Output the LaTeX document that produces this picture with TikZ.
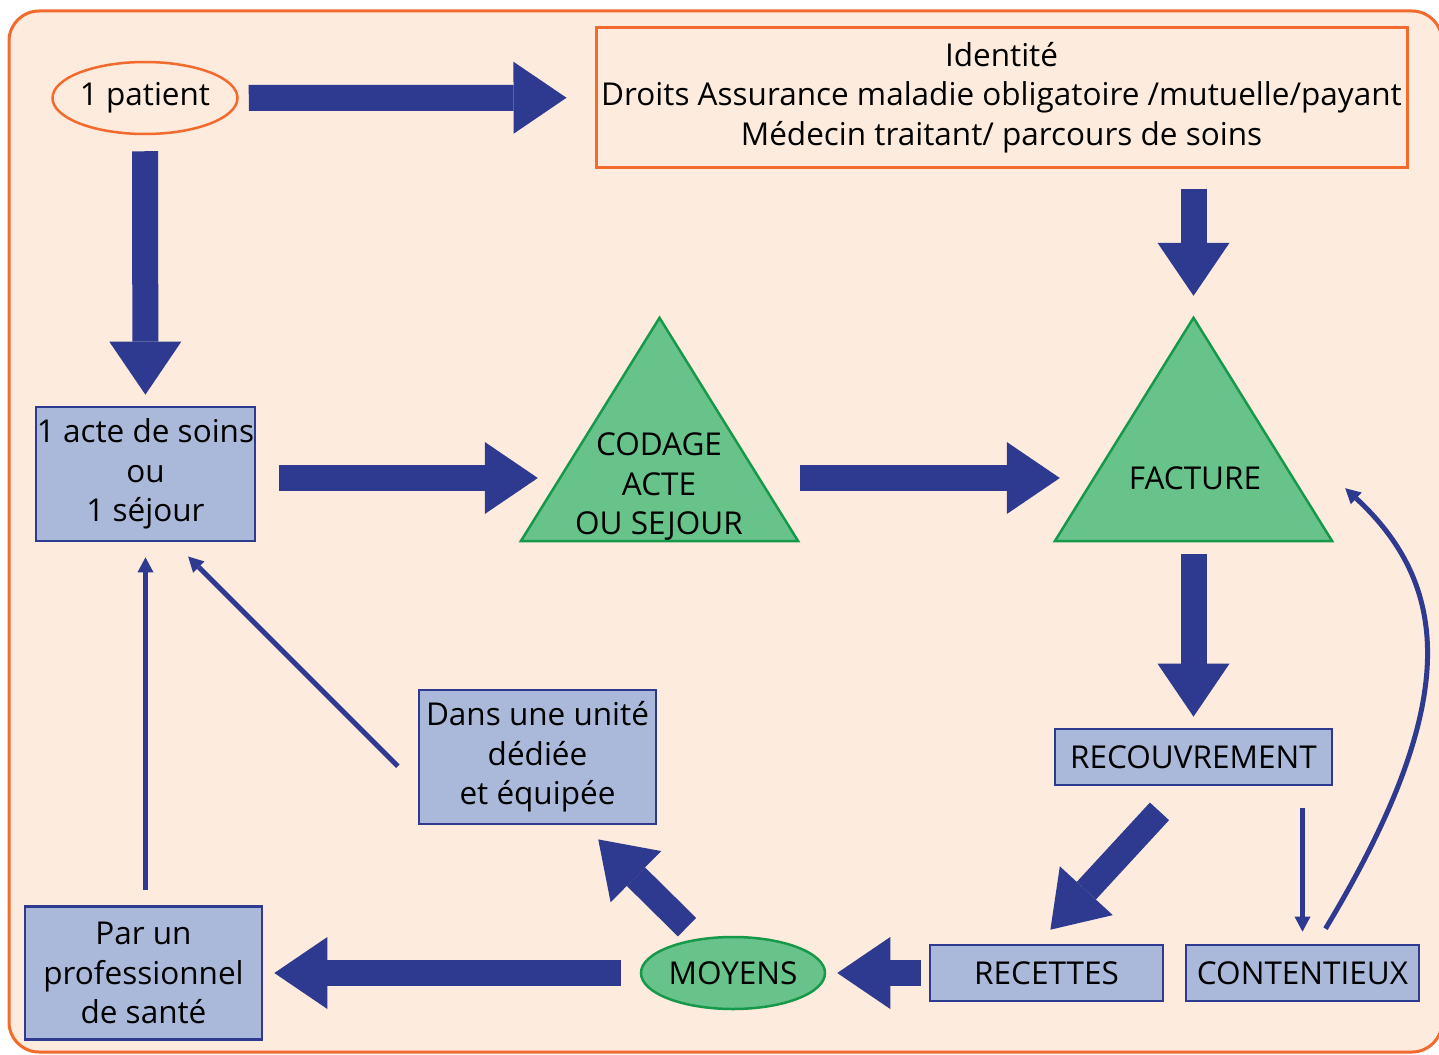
\documentclass[tikz,border=0pt]{standalone}
\usepackage{fontspec}
\setmainfont{Open Sans}
\usetikzlibrary{arrows.meta}
\usetikzlibrary{shapes.geometric}
\usetikzlibrary{positioning}

\definecolor{peach}{HTML}{FDEBDD}
\definecolor{frameorange}{HTML}{F26A2D}
\definecolor{darkblue}{HTML}{2E3A8F}
\definecolor{lightblue}{HTML}{AAB8DA}
\definecolor{greenfill}{HTML}{68C38B}
\definecolor{greenline}{HTML}{17994A}

\begin{document}
\begin{tikzpicture}[x=1pt,y=-1pt,
    font=\fontsize{31.5}{39.5}\selectfont,
    box/.style={draw=darkblue,fill=lightblue,line width=2.7pt,inner sep=0pt,align=center},
    oval/.style={ellipse,line width=2.5pt,inner sep=0pt,minimum width=185pt,minimum height=72pt},
    trizone/.style={inner sep=0pt,minimum width=277pt,minimum height=223pt},
    tri/.style={draw=greenline,fill=greenfill,line width=2.5pt},
    tritext/.style={inner sep=0pt,align=center},
    bigarrow/.style={color=darkblue,line width=26pt,-{Triangle[length=53pt,width=72pt,line width=0pt]}},
    thinarrow/.style={color=darkblue,line width=5pt,-{Triangle[length=15pt,width=16pt,line width=0pt]}}]
    \useasboundingbox (0,0) rectangle (1439,1054);
    \draw [draw=frameorange,fill=peach,line width=3pt,rounded corners=30pt] (9,11) rectangle (1442,1052);

    % top row
    \node [oval,draw=frameorange] (patient) at (145,98) {1 patient};
    \node [draw=frameorange,line width=3pt,inner sep=0pt,align=center,
           minimum width=811pt,minimum height=139pt] (info) at (1001.5,97.5)
          {Identité\\Droits Assurance maladie obligatoire /mutuelle/payant\\Médecin traitant/ parcours de soins};

    % middle row
    \node [box,minimum width=219pt,minimum height=134pt] (acte) at (145.5,474) {1 acte de soins\\ou\\1 séjour};
    \node [trizone] (codtri) at (659.5,429.5) {};
    \node [trizone] (factri) at (1193.5,429.5) {};
    \draw [tri] (codtri.north) -- (codtri.south east) -- (codtri.south west) -- cycle;
    \draw [tri] (factri.north) -- (factri.south east) -- (factri.south west) -- cycle;
    \node [tritext] (codage) at (659,487) {CODAGE\\ACTE\\OU SEJOUR};
    \node [tritext] (facture) at (1195,478) {FACTURE};

    % bottom part
    \node [box,minimum width=277pt,minimum height=56pt] (recouv) at (1193.5,757) {RECOUVREMENT};
    \node [box,minimum width=233pt,minimum height=56pt] (recettes) at (1046.5,973) {RECETTES};
    \node [box,minimum width=233pt,minimum height=56pt] (conten) at (1302.5,973) {CONTENTIEUX};
    \node [oval,draw=greenline,fill=greenfill,minimum width=184pt] (moyens) at (733,973) {MOYENS};
    \node [box,minimum width=237pt,minimum height=134pt] (dans) at (537.5,757) {Dans une unité\\dédiée\\et équipée};
    \node [box,minimum width=237pt,minimum height=133pt] (parun) at (143.5,973) {Par un\\professionnel\\de santé};

    \path [bigarrow]
        (patient) edge [shorten <=10pt,shorten >=28pt] (info)
        (patient) edge [shorten <=16pt,shorten >=11pt] (acte)
        (factri.north |- info.south) edge [shorten <=20pt,shorten >=22pt] (factri.north)
        (acte.east |- facture) edge [shorten <=23pt,shorten >=-17pt] (codtri.south west |- facture)
        (codtri.south east |- facture) edge [shorten <=2pt,shorten >=-5pt] (factri.south west |- facture)
        (factri.south) edge [shorten <=13pt,shorten >=11pt] (recouv)
        ([xshift=-11pt]recouv.south) edge [shorten <=34pt,shorten >=19pt] ([xshift=-9pt]recettes.north)
        (recettes) edge [shorten <=8pt,shorten >=11pt] (moyens)
        (moyens) edge [shorten <=19pt,shorten >=11pt] (parun)
        (moyens.135) edge [shorten <=16pt,shorten >=20pt] ([xshift=46.5pt]dans.south);
    \path [thinarrow]
        (parun.north -| acte) edge [shorten <=15pt,shorten >=15pt] (acte)
        ([yshift=-29pt]dans.west) edge [shorten <=28pt,shorten >=20pt] ([xshift=28.5pt]acte.south)
        (recouv.south -| conten) edge [shorten <=22pt,shorten >=12pt] (conten);
    \draw [thinarrow] ([xshift=23pt,yshift=15pt]conten.north)
        .. controls (1457,710) and (1455,590) .. ([xshift=13pt,yshift=53pt]factri.south east);
\end{tikzpicture}
\end{document}
